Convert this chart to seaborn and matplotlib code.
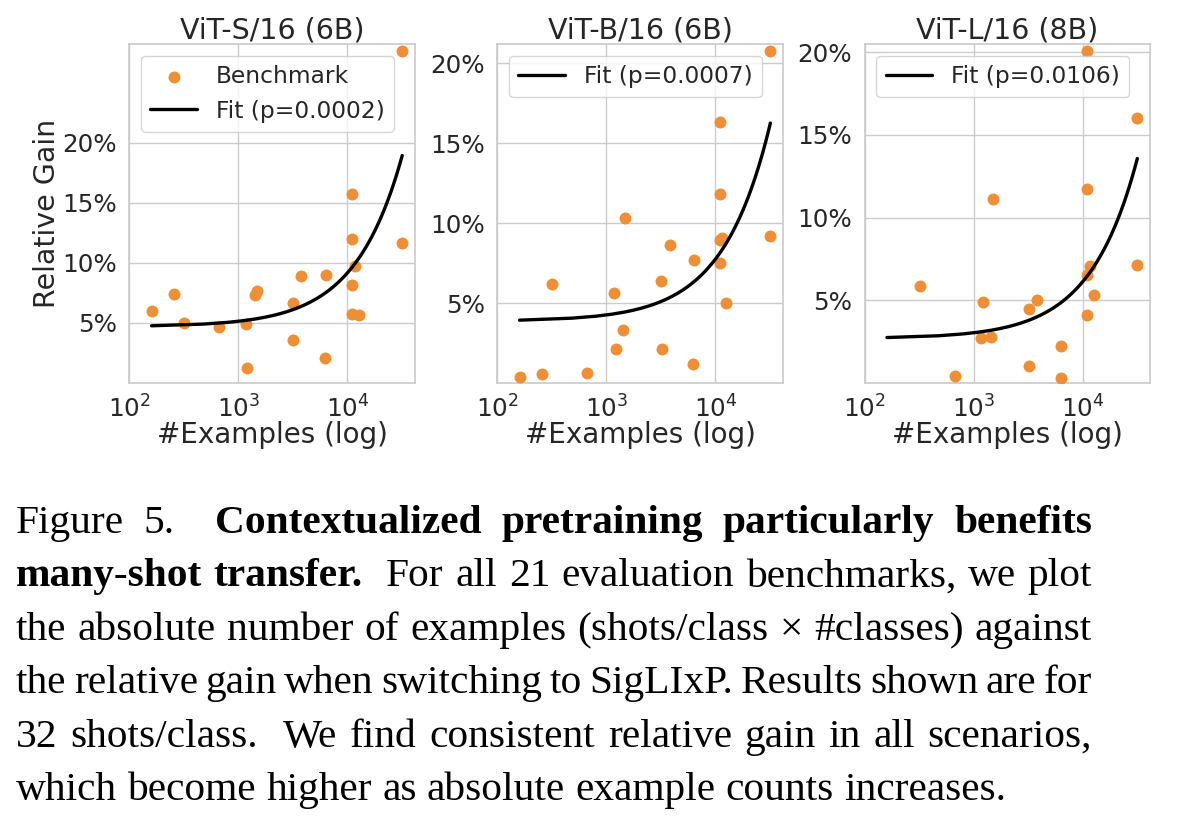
import matplotlib
matplotlib.use("Agg")
import matplotlib.pyplot as plt
from matplotlib.ticker import FuncFormatter, NullLocator, FixedLocator
import pandas as pd
import seaborn as sns

# ---------------- data ----------------
titles = ["ViT-S/16 (6B)", "ViT-B/16 (6B)", "ViT-L/16 (8B)"]
fit_labels = ["Fit (p=0.0002)", "Fit (p=0.0007)", "Fit (p=0.0106)"]

# ViT-S/16 (6B): #examples vs relative gain (%)
x_s = [160, 255, 320, 670, 1170, 1205, 1425, 1500, 3180, 3200, 3790, 6240, 6330,
       10970, 10970, 10970, 10970, 11750, 12790, 31900, 31900]
y_s = [5.95, 7.44, 4.98, 4.62, 4.89, 1.26, 7.30, 7.64, 6.64, 3.59, 8.91, 2.04, 9.00,
       15.71, 11.99, 8.17, 5.75, 9.77, 5.64, 27.63, 11.66]

# ViT-B/16 (6B)
x_b = [160, 255, 318, 670, 1175, 1218, 1432, 1494, 3177, 3223, 3808, 6194, 6325,
       10970, 10970, 10970, 10970, 11500, 12620, 32000, 32000]
y_b = [0.37, 0.55, 6.21, 0.61, 5.65, 2.14, 3.31, 10.30, 6.36, 2.10, 8.63, 1.20, 7.69,
       16.34, 11.80, 8.95, 7.49, 9.05, 4.98, 20.78, 9.20]

# ViT-L/16 (8B)  (first two benchmarks fall below the 0% axis limit; estimated)
x_l = [160, 255, 321, 671, 1172, 1222, 1436, 1499, 3200, 3220, 3820, 6280, 6370,
       10970, 10970, 10970, 10970, 11590, 12610, 31700, 31700]
y_l = [-3.4, -3.5, 5.87, 0.40, 2.70, 4.90, 2.78, 11.10, 4.45, 1.04, 5.00, 0.32, 2.23,
       20.10, 11.72, 6.51, 4.09, 7.10, 5.30, 16.02, 7.14]

panels_x = [x_s, x_b, x_l]
panels_y = [y_s, y_b, y_l]
y_top = [28.2, 21.2, 20.5]
y_ticks = [5, 10, 15, 20]
x_ticks = [1e2, 1e3, 1e4]
x_lim = (100, 41700)

caption_lines = [
    "Figure 5.  *Contextualized *pretraining *particularly *benefits",
    "*many-shot *transfer.  For all 21 evaluation benchmarks, we plot",
    "the absolute number of examples (shots/class \u00d7 #classes) against",
    "the relative gain when switching to SigLIxP. Results shown are for",
    "32 shots/class.  We find consistent relative gain in all scenarios,",
    "which become higher as absolute example counts increases.",
]

# ---------------- style ----------------
sns.set_theme(style="whitegrid")
plt.rcParams["font.family"] = ["DejaVu Sans"]
orange = "#EF8F35"
text_col = "#262626"

W, H = 1188, 830
fig = plt.figure(figsize=(W / 100, H / 100), dpi=100)

lefts = [129.3, 497.3, 864.7]
ax_w, ax_top, ax_bot = 285.6, 44.0, 383.0

for i in range(3):
    ax = fig.add_axes([lefts[i] / W, 1 - ax_bot / H, ax_w / W, (ax_bot - ax_top) / H])
    df = pd.DataFrame({"examples": panels_x[i], "gain": panels_y[i]})
    sns.scatterplot(data=df, x="examples", y="gain", ax=ax, color=orange, s=74,
                    linewidth=0, zorder=3, legend=False)
    sc = ax.collections[-1]
    sns.regplot(data=df, x="examples", y="gain", ax=ax, scatter=False, ci=None,
                truncate=True, color="black",
                line_kws=dict(linewidth=2.4, zorder=4))
    fit_line = ax.lines[-1]
    ax.set_xscale("log")
    ax.set_xlim(*x_lim)
    ax.xaxis.set_major_locator(FixedLocator(x_ticks))
    ax.xaxis.set_minor_locator(NullLocator())
    ax.set_ylim(0, y_top[i])
    ax.set_yticks(y_ticks)
    ax.yaxis.set_major_formatter(FuncFormatter(lambda v, p: f"{v:.0f}%"))
    ax.tick_params(axis="both", labelsize=17.7, colors=text_col, pad=3)
    ax.set_title(titles[i], fontsize=20.5, color=text_col, pad=4)
    ax.set_xlabel("#Examples (log)", fontsize=20, color=text_col, labelpad=-1)
    if i == 0:
        ax.set_ylabel("Relative Gain", fontsize=20.5, color=text_col, labelpad=1)
        handles, labels = [sc, fit_line], ["Benchmark", fit_labels[i]]
    else:
        ax.set_ylabel("")
        handles, labels = [fit_line], [fit_labels[i]]
    leg = ax.legend(handles, labels, loc="upper left", fontsize=16.8, frameon=True)
    for t in leg.get_texts():
        t.set_color(text_col)

# ---------------- caption (justified) ----------------
renderer = fig.canvas.get_renderer()
cap_fs = 29.8
cap_left, cap_right = 16.0, 1092.0
base0, step = 533.0, 53.4
space_px = cap_fs * 100 / 72 * 0.25

def word_width(word, bold):
    t = fig.text(0, 0, word, fontsize=cap_fs, family="Liberation Serif",
                 weight="bold" if bold else "normal")
    w = t.get_window_extent(renderer=renderer).width
    t.remove()
    return w

for li, line in enumerate(caption_lines):
    tokens = line.split(" ")
    words, gaps = [], []
    pending = 0
    for tok in tokens:
        if tok == "":
            pending += 1
            continue
        bold = tok.startswith("*")
        word = tok[1:] if bold else tok
        if words:
            gaps.append(1 + pending)
        pending = 0
        words.append((word, bold))
    widths = [word_width(w, b) for w, b in words]
    last = li == len(caption_lines) - 1
    if last or not gaps:
        unit = space_px
    else:
        unit = (cap_right - cap_left - sum(widths)) / sum(gaps)
    x = cap_left
    y = base0 + step * li
    for k, ((w, b), ww) in enumerate(zip(words, widths)):
        fig.text(x / W, 1 - y / H, w, fontsize=cap_fs, family="Liberation Serif",
                 weight="bold" if b else "normal", va="baseline", ha="left",
                 color="black")
        x += ww
        if k < len(gaps):
            x += gaps[k] * unit

fig.savefig("out.png", dpi=100)
